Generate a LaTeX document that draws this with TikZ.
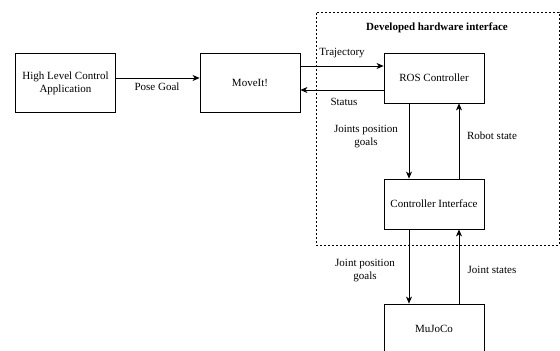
\documentclass[tikz,border=0pt]{standalone}
\usepackage{fontspec}
\setmainfont{Liberation Serif}
\usepackage{tikz}
\usetikzlibrary{arrows.meta,positioning,calc}

\begin{document}
\begin{tikzpicture}[
  x=1pt, y=-1pt,
  >=Stealth,
  block/.style={draw, line width=0.8pt, minimum width=100pt, minimum height=50pt,
    align=center, font=\rmfamily\fontsize{11}{13}\selectfont, inner sep=0pt},
  arrow/.style={-{Stealth[length=7pt,width=6pt,inset=2pt]}, line width=0.8pt},
  lbl/.style={font=\rmfamily\fontsize{11}{13}\selectfont, align=center, inner sep=0pt}
]
\useasboundingbox (0,0) rectangle (560,351);

% hardware interface frame
\node[draw, dash pattern=on 2pt off 2pt, line width=0.6pt, minimum width=243pt,
  minimum height=233pt, inner sep=0pt] (hw) at (437.5,128.5) {};
\node[lbl, font=\rmfamily\fontsize{11}{13}\selectfont\bfseries] (hwtitle) at (437,28)
  {Developed hardware interface};

% blocks
\node[block, minimum height=59pt] (HLC) at (65.5,83)
  {High Level Control\\Application};
\node[block, minimum height=59pt] (MoveIt) at (250,83) {MoveIt!};
\node[block] (ROS) at (434,78) {ROS Controller};
\node[block] (CI) at (434,204) {Controller Interface};
\node[block] (MuJoCo) at (434,329) {MuJoCo};

% connectors
\draw[arrow] (HLC.east |- 0,78) -- (MoveIt.west |- 0,78);
\draw[arrow] (MoveIt.east |- 0,66) -- (ROS.west |- 0,66);
\draw[arrow] (ROS.west |- 0,90) -- (MoveIt.east |- 0,90);
\draw[arrow] (ROS.south -| 409,0) -- (CI.north -| 409,0);
\draw[arrow] (CI.north -| 459,0) -- (ROS.south -| 459,0);
\draw[arrow] (CI.south -| 409,0) -- (MuJoCo.north -| 409,0);
\draw[arrow] (MuJoCo.north -| 459,0) -- (CI.south -| 459,0);

% labels
\node[lbl] (lpose) at (157,87) {Pose Goal};
\node[lbl] (ltraj) at (342,53) {Trajectory};
\node[lbl] (lstat) at (344,102) {Status};
\node[lbl] (ljpg) at (366,137) {Joints position\\goals};
\node[lbl] (lrob) at (492,136) {Robot state};
\node[lbl] (ljg) at (365,271) {Joint position\\goals};
\node[lbl] (ljs) at (492,270) {Joint states};
\end{tikzpicture}
\end{document}
